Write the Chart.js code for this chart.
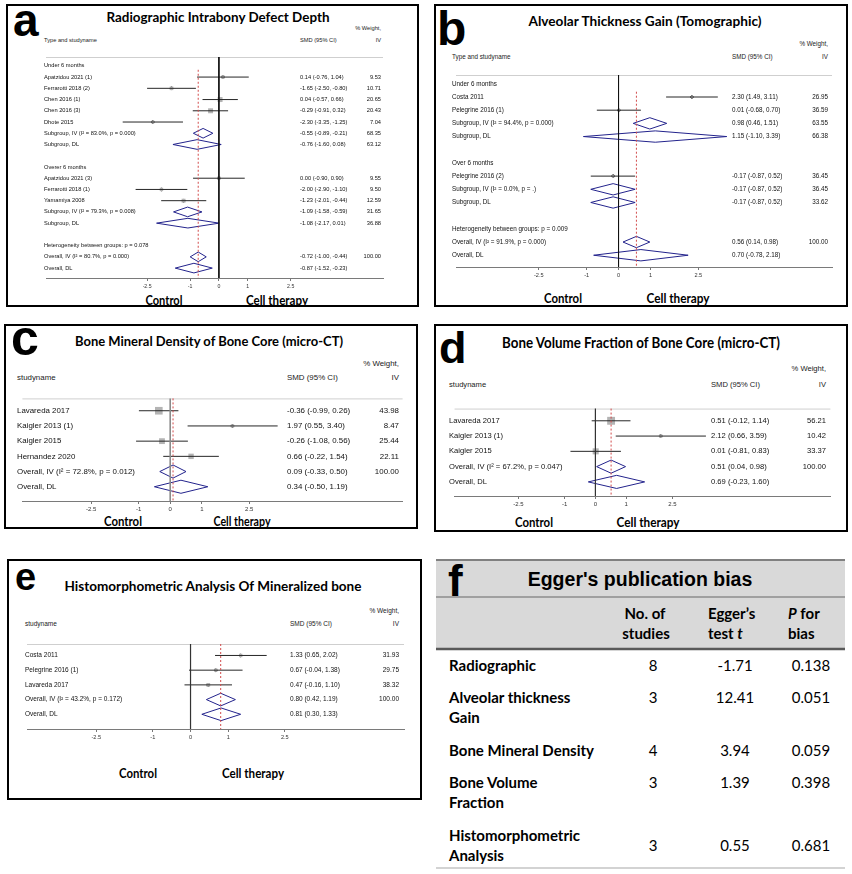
<!DOCTYPE html>
<html>
<head>
<meta charset="utf-8">
<script src="https://cdn.jsdelivr.net/npm/chart.js@4.4.1/dist/chart.umd.min.js"></script>
<style>
  body { margin: 0; background: #fff; }
  #page { position: relative; width: 852px; height: 874px; overflow: hidden; }
  #deco { position: absolute; left: 0; top: 0; }
  #page canvas { position: absolute; }
</style>
</head>
<body>
<div id="page">
  <svg id="deco" width="852" height="874" xmlns="http://www.w3.org/2000/svg"></svg>
</div>
<script>
// x axis tick values shared by all forest plots
const smdTicks = [-2.5, -1, 0, 1, 2.5];

// Panel a - Radiographic Intrabony Defect Depth
const aRows = ['Under 6 months', 'Apatzidou 2021 (1)', 'Ferrarotti 2018 (2)', 'Chen 2016 (1)', 'Chen 2016 (3)', 'Dhote 2015',
  'Subgroup, IV (I² = 83.0%, p = 0.000)', 'Subgroup, DL', '', 'Overer 6 months', 'Apatzidou 2021 (3)', 'Ferrarotti 2018 (1)',
  'Yamamiya 2008', 'Subgroup, IV (I² = 79.3%, p = 0.008)', 'Subgroup, DL', '', 'Heterogeneity between groups: p = 0.078',
  'Overall, IV (I² = 80.7%, p = 0.000)', 'Overall, DL'];
const aKind = ['head', 'study', 'study', 'study', 'study', 'study', 'pool', 'pool', '', 'head', 'study', 'study', 'study', 'pool', 'pool', '', 'head', 'pool', 'pool'];
const aEst = [null, 0.14, -1.65, 0.04, -0.29, -2.30, -0.55, -0.76, null, null, 0.00, -2.00, -1.23, -1.09, -1.08, null, null, -0.72, -0.87];
const aLow = [null, -0.76, -2.50, -0.57, -0.91, -3.35, -0.89, -1.60, null, null, -0.90, -2.90, -2.01, -1.58, -2.17, null, null, -1.00, -1.52];
const aHigh = [null, 1.04, -0.80, 0.66, 0.32, -1.25, -0.21, 0.08, null, null, 0.90, -1.10, -0.44, -0.59, 0.01, null, null, -0.44, -0.23];
const aWeight = [null, 9.53, 10.71, 20.65, 20.43, 7.04, 68.35, 63.12, null, null, 9.55, 9.50, 12.59, 31.65, 36.88, null, null, 100.00, null];

// Panel b - Alveolar Thickness Gain (Tomographic)
const bRows = ['Under 6 months', 'Costa 2011', 'Pelegrine 2016 (1)', 'Subgroup, IV (I² = 94.4%, p = 0.000)', 'Subgroup, DL', '',
  'Over 6 months', 'Pelegrine 2016 (2)', 'Subgroup, IV (I² = 0.0%, p = .)', 'Subgroup, DL', '',
  'Heterogeneity between groups: p = 0.009', 'Overall, IV (I² = 91.9%, p = 0.000)', 'Overall, DL'];
const bKind = ['head', 'study', 'study', 'pool', 'pool', '', 'head', 'study', 'pool', 'pool', '', 'head', 'pool', 'pool'];
const bEst = [null, 2.30, 0.01, 0.98, 1.15, null, null, -0.17, -0.17, -0.17, null, null, 0.56, 0.70];
const bLow = [null, 1.49, -0.68, 0.46, -1.10, null, null, -0.87, -0.87, -0.87, null, null, 0.14, -0.78];
const bHigh = [null, 3.11, 0.70, 1.51, 3.39, null, null, 0.52, 0.52, 0.52, null, null, 0.98, 2.18];
const bWeight = [null, 26.95, 36.59, 63.55, 66.38, null, null, 36.45, 36.45, 33.62, null, null, 100.00, null];

// Panel c - Bone Mineral Density of Bone Core (micro-CT)
const cRows = ['Lavareda 2017', 'Kaigler 2013 (1)', 'Kaigler 2015', 'Hernandez 2020', 'Overall, IV (I² = 72.8%, p = 0.012)', 'Overall, DL'];
const cKind = ['study', 'study', 'study', 'study', 'pool', 'pool'];
const cEst = [-0.36, 1.97, -0.26, 0.66, 0.09, 0.34];
const cLow = [-0.99, 0.55, -1.08, -0.22, -0.33, -0.50];
const cHigh = [0.26, 3.40, 0.56, 1.54, 0.50, 1.19];
const cWeight = [43.98, 8.47, 25.44, 22.11, 100.00, null];

// Panel d - Bone Volume Fraction of Bone Core (micro-CT)
const dRows = ['Lavareda 2017', 'Kaigler 2013 (1)', 'Kaigler 2015', 'Overall, IV (I² = 67.2%, p = 0.047)', 'Overall, DL'];
const dKind = ['study', 'study', 'study', 'pool', 'pool'];
const dEst = [0.51, 2.12, 0.01, 0.51, 0.69];
const dLow = [-0.12, 0.66, -0.81, 0.04, -0.23];
const dHigh = [1.14, 3.59, 0.83, 0.98, 1.60];
const dWeight = [56.21, 10.42, 33.37, 100.00, null];

// Panel e - Histomorphometric Analysis Of Mineralized bone
const eRows = ['Costa 2011', 'Pelegrine 2016 (1)', 'Lavareda 2017', 'Overall, IV (I² = 43.2%, p = 0.172)', 'Overall, DL'];
const eKind = ['study', 'study', 'study', 'pool', 'pool'];
const eEst = [1.33, 0.67, 0.47, 0.80, 0.81];
const eLow = [0.65, -0.04, -0.16, 0.42, 0.30];
const eHigh = [2.02, 1.38, 1.10, 1.19, 1.33];
const eWeight = [31.93, 29.75, 38.32, 100.00, null];

// Panel f - Egger's publication bias table
const eggerOutcomes = [['Radiographic'], ['Alveolar thickness', 'Gain'], ['Bone Mineral Density'], ['Bone Volume', 'Fraction'], ['Histomorphometric', 'Analysis']];
const eggerStudies = ['8', '3', '4', '3', '3'];
const eggerT = ['-1.71', '12.41', '3.94', '1.39', '0.55'];
const eggerP = ['0.138', '0.051', '0.059', '0.398', '0.681'];

const ARIAL = '"Liberation Sans", Arial, sans-serif';
const LATO = 'Lato, "Open Sans", sans-serif';

// ---------- svg helpers ----------
const svg = document.getElementById('deco');
function el(tag, attrs, text) {
    const e = document.createElementNS('http://www.w3.org/2000/svg', tag);
    for (const k in attrs) e.setAttribute(k, attrs[k]);
    if (text !== undefined) e.textContent = text;
    svg.appendChild(e);
    return e;
}
function txt(x, y, s, o) {
    o = o || {};
    const a = {
        x: x, y: y,
        'font-family': o.family || ARIAL,
        'font-size': o.size || 7,
        'font-weight': o.weight || 'normal',
        fill: o.color || '#1a1a1a',
        'text-anchor': o.anchor || 'start'
    };
    if (!o.baseline) a['dominant-baseline'] = 'central';
    if (o.len) { a.textLength = o.len; a.lengthAdjust = 'spacingAndGlyphs'; }
    return el('text', a, s);
}
function line(x1, y1, x2, y2, color, w) {
    el('line', { x1: x1, y1: y1, x2: x2, y2: y2, stroke: color, 'stroke-width': w });
}

// ---------- forest plot factory ----------
function smdText(e, l, h) {
    return e.toFixed(2) + ' (' + l.toFixed(2) + ', ' + h.toFixed(2) + ')';
}

function makeForest(L, rows, kind, est, low, high, weight) {
    const axisH = 15;
    const canvas = document.createElement('canvas');
    canvas.width = L.right - L.left;
    canvas.height = L.axis - L.top + axisH;
    canvas.style.left = L.left + 'px';
    canvas.style.top = L.top + 'px';
    document.getElementById('page').appendChild(canvas);

    const xMin = (L.left - L.zero) / L.unit;
    const xMax = (L.right - L.zero) / L.unit;
    const yMin = -(L.row0 - L.top) / L.step;
    const yMax = (L.axis - L.row0) / L.step;
    const ivRow = rows.findIndex(r => r.indexOf('Overall, IV') === 0);

    const datasets = [];
    // no-effect line
    datasets.push({ data: [{ x: 0, y: yMin }, { x: 0, y: yMax }], showLine: true,
        borderColor: L.zeroColor, borderWidth: L.zeroWidth, pointRadius: 0 });
    // overall IV estimate (red dashed)
    datasets.push({ data: [{ x: est[ivRow], y: L.redTop == null ? yMin : L.redTop }, { x: est[ivRow], y: yMax }],
        showLine: true, borderColor: '#d24b4b', borderWidth: 1, borderDash: [2, 2], pointRadius: 0 });

    const studyIdx = [];
    rows.forEach((r, i) => {
        if (kind[i] === 'study') {
            studyIdx.push(i);
            datasets.push({ data: [{ x: low[i], y: i }, { x: high[i], y: i }], showLine: true,
                borderColor: '#262626', borderWidth: 1, pointRadius: 0 });
        }
        if (kind[i] === 'pool') {
            const h = 0.43;
            datasets.push({
                data: [{ x: low[i], y: i }, { x: est[i], y: i - h }, { x: high[i], y: i }, { x: est[i], y: i + h }, { x: low[i], y: i }],
                showLine: true, borderColor: '#23238c', borderWidth: 1, pointRadius: 0
            });
        }
    });
    // weight boxes
    datasets.push({
        data: studyIdx.map(i => ({ x: est[i], y: i })),
        pointStyle: 'rect',
        pointRadius: studyIdx.map(i => Math.sqrt(weight[i]) * L.box / 1.414),
        pointBackgroundColor: '#b4b4b4', pointBorderWidth: 0, pointBorderColor: 'rgba(0,0,0,0)'
    });
    // point estimates
    datasets.push({
        data: studyIdx.map(i => ({ x: est[i], y: i })),
        pointStyle: 'rectRot', pointRadius: 2,
        pointBackgroundColor: '#000', pointBorderWidth: 0, pointBorderColor: 'rgba(0,0,0,0)'
    });

    // draws the header rule and the text columns on each row
    const rowText = {
        id: 'rowText',
        beforeDatasetsDraw(chart) {
            const { ctx, chartArea } = chart;
            ctx.save();
            ctx.strokeStyle = '#cfcfcf';
            ctx.lineWidth = 1;
            ctx.beginPath();
            ctx.moveTo(chartArea.left, chartArea.top + 0.5);
            ctx.lineTo(chartArea.right, chartArea.top + 0.5);
            ctx.stroke();
            ctx.restore();
        },
        afterDraw(chart) {
            const { ctx } = chart;
            const y = chart.scales.y;
            ctx.save();
            ctx.font = L.font + 'px ' + ARIAL;
            ctx.fillStyle = '#111';
            ctx.textBaseline = 'middle';
            rows.forEach((r, i) => {
                const py = y.getPixelForValue(i);
                ctx.textAlign = 'left';
                ctx.fillText(r, L.labX - L.left, py);
                if (est[i] != null) ctx.fillText(smdText(est[i], low[i], high[i]), L.smdX - L.left, py);
                if (weight[i] != null) {
                    ctx.textAlign = 'right';
                    ctx.fillText(weight[i].toFixed(2), L.wX - L.left, py);
                }
            });
            ctx.restore();
        }
    };

    new Chart(canvas, {
        type: 'scatter',
        data: { datasets: datasets },
        options: {
            responsive: false,
            animation: false,
            events: [],
            clip: false,
            layout: { padding: 0 },
            plugins: { legend: { display: false }, tooltip: { enabled: false } },
            scales: {
                x: {
                    type: 'linear', min: xMin, max: xMax,
                    afterBuildTicks: s => { s.ticks = smdTicks.map(v => ({ value: v })); },
                    afterFit: s => { s.height = axisH; },
                    grid: { drawOnChartArea: false, drawTicks: true, tickLength: 3, color: '#777' },
                    border: { display: true, color: '#7a7a7a', width: 1 },
                    ticks: { autoSkip: false, maxRotation: 0, padding: 2, color: '#333',
                        font: { size: L.tick, family: ARIAL }, callback: v => String(v) }
                },
                y: { type: 'linear', reverse: true, min: yMin, max: yMax, display: false }
            }
        },
        plugins: [rowText]
    });
}

// panel geometry (page pixels)
const layoutA = { left: 42, right: 387, top: 53, axis: 278, zero: 219, unit: 29.4, row0: 62, step: 11.44, font: 5.7, tick: 5.2, labX: 44, smdX: 300, wX: 381, box: 1.1, redTop: 0.35, zeroColor: '#111', zeroWidth: 1 };
const layoutB = { left: 452, right: 836, top: 71, axis: 267, zero: 618, unit: 32.6, row0: 80, step: 13.46, font: 6.3, tick: 5.6, labX: 452, smdX: 732, wX: 828, box: 0.45, redTop: 0.6, zeroColor: '#111', zeroWidth: 1 };
const layoutC = { left: 17, right: 408, top: 393, axis: 501, zero: 169, unit: 32.5, row0: 406, step: 16, font: 7.9, tick: 6, labX: 17, smdX: 287, wX: 399, box: 1.15, redTop: null, zeroColor: '#8a8a8a', zeroWidth: 1.6 };
const layoutD = { left: 449, right: 836, top: 403, axis: 496, zero: 594, unit: 31.7, row0: 416, step: 16.25, font: 7.6, tick: 6, labX: 449, smdX: 711, wX: 826, box: 1.05, redTop: null, zeroColor: '#333', zeroWidth: 1.2 };
const layoutE = { left: 23, right: 408, top: 640, axis: 729, zero: 190, unit: 38.5, row0: 652, step: 15.4, font: 6.5, tick: 5.6, labX: 25, smdX: 290, wX: 399, box: 0.6, redTop: null, zeroColor: '#333', zeroWidth: 1.2 };

// ---------- panel frames, titles, column headers ----------
el('rect', { x: 7, y: 5, width: 411, height: 301, fill: 'none', stroke: '#000', 'stroke-width': 2 });
el('rect', { x: 435, y: 5, width: 412, height: 301, fill: 'none', stroke: '#000', 'stroke-width': 2 });
el('rect', { x: 5, y: 325, width: 412, height: 203, fill: 'none', stroke: '#000', 'stroke-width': 2 });
el('rect', { x: 435, y: 325, width: 412, height: 206, fill: 'none', stroke: '#000', 'stroke-width': 2 });
el('rect', { x: 8, y: 560, width: 413, height: 239, fill: 'none', stroke: '#000', 'stroke-width': 2 });

function panelText(letter, lx, lb, lsize, title, tcx, tcy, tsize, tlen, L, hdr, wY, hY, ctrl, cell, cy) {
    txt(lx, lb, letter, { size: lsize, weight: 'bold', color: '#000', baseline: true, family: ARIAL });
    txt(tcx, tcy, title, { size: tsize, weight: 'bold', color: '#000', anchor: 'middle', family: LATO, len: tlen });
    txt(L.wX, wY, '% Weight,', { size: L.font, anchor: 'end' });
    txt(L.labX, hY, hdr, { size: L.font });
    txt(L.smdX, hY, 'SMD (95% CI)', { size: L.font });
    txt(L.wX, hY, 'IV', { size: L.font, anchor: 'end' });
    txt(ctrl[0], cy, 'Control', { size: 14, weight: 'bold', color: '#000', anchor: 'middle', family: LATO, len: ctrl[1] });
    txt(cell[0], cy, 'Cell therapy', { size: 14, weight: 'bold', color: '#000', anchor: 'middle', family: LATO, len: cell[1] });
}
panelText('a', 13, 36, 46, 'Radiographic Intrabony Defect Depth', 218, 17, 13, 223, layoutA, 'Type and studyname', 28, 40, [164, 37], [277, 62], 299);
panelText('b', 437, 45, 48, 'Alveolar Thickness Gain (Tomographic)', 645, 20, 14, 233, layoutB, 'Type and studyname', 43, 56, [563, 38], [678, 63], 297);
panelText('c', 11, 355, 50, 'Bone Mineral Density of Bone Core (micro-CT)', 209, 340, 14, 268, layoutC, 'studyname', 363, 377, [123, 38], [242, 57], 520);
panelText('d', 439, 363, 45, 'Bone Volume Fraction of Bone Core (micro-CT)', 641, 342, 15, 278, layoutD, 'studyname', 368, 384, [534, 38], [648, 63], 521);
panelText('e', 15, 590, 38, 'Histomorphometric Analysis Of Mineralized bone', 213, 585, 14, 297, layoutE, 'studyname', 610, 623, [138, 38], [253, 62], 772);

// ---------- forest plots ----------
makeForest(layoutA, aRows, aKind, aEst, aLow, aHigh, aWeight);
makeForest(layoutB, bRows, bKind, bEst, bLow, bHigh, bWeight);
makeForest(layoutC, cRows, cKind, cEst, cLow, cHigh, cWeight);
makeForest(layoutD, dRows, dKind, dEst, dLow, dHigh, dWeight);
makeForest(layoutE, eRows, eKind, eEst, eLow, eHigh, eWeight);

// ---------- panel f: Egger's table ----------
el('rect', { x: 436, y: 560, width: 409, height: 89, fill: '#d9d9d9' });
line(436, 560, 845, 560, '#808080', 2);
line(436, 597, 845, 597, '#8c8c8c', 1.5);
line(436, 649, 845, 649, '#5a5a5a', 2.5);
line(436, 868, 845, 868, '#c4c4c4', 1.5);
txt(448, 596, 'f', { size: 44, weight: 'bold', color: '#000', baseline: true });
txt(640, 579, "Egger's publication bias", { size: 19.5, weight: 'bold', color: '#000', anchor: 'middle' });

const hdrOpt = { size: 15, weight: 'bold', color: '#000', family: LATO };
txt(645, 613, 'No. of', Object.assign({ anchor: 'middle' }, hdrOpt));
txt(646, 633, 'studies', Object.assign({ anchor: 'middle' }, hdrOpt));
txt(708, 613, 'Egger’s', hdrOpt);
const tt = txt(708, 633, 'test ', hdrOpt);
const ti = document.createElementNS('http://www.w3.org/2000/svg', 'tspan');
ti.setAttribute('font-style', 'italic'); ti.textContent = 't'; tt.appendChild(ti);
const pf = txt(788, 613, '', hdrOpt);
const pi = document.createElementNS('http://www.w3.org/2000/svg', 'tspan');
pi.setAttribute('font-style', 'italic'); pi.textContent = 'P'; pf.appendChild(pi);
const pr = document.createElementNS('http://www.w3.org/2000/svg', 'tspan');
pr.textContent = ' for'; pf.appendChild(pr);
txt(788, 633, 'bias', hdrOpt);

const rowTop = [665, 697, 750, 782, 835];
eggerOutcomes.forEach((lines, i) => {
    lines.forEach((s, k) => txt(449, rowTop[i] + k * 20, s, { size: 15, weight: 'bold', color: '#000', family: LATO }));
    const vy = lines.length === 2 && i === 4 ? rowTop[i] + 10 : rowTop[i];
    txt(653, vy, eggerStudies[i], { size: 15, color: '#000', anchor: 'middle', family: LATO });
    txt(735, vy, eggerT[i], { size: 15, color: '#000', anchor: 'middle', family: LATO });
    txt(811, vy, eggerP[i], { size: 15, color: '#000', anchor: 'middle', family: LATO });
});
</script>
</body>
</html>
